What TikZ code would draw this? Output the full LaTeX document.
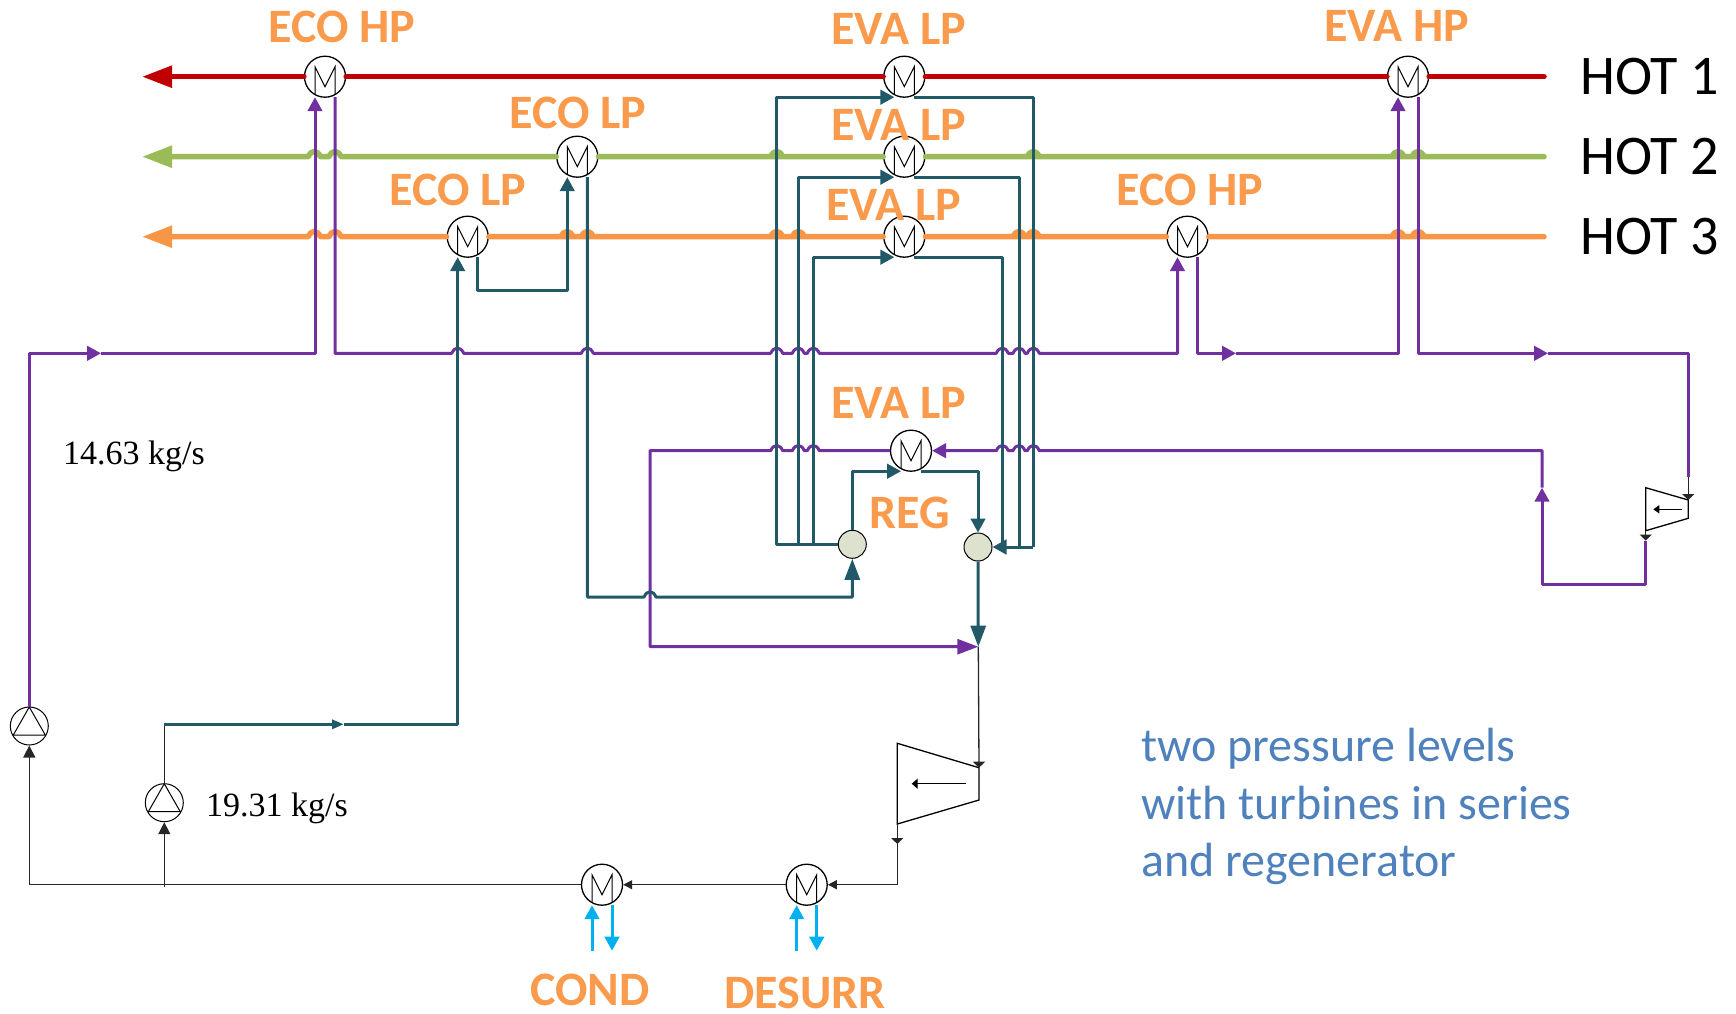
\documentclass[tikz,border=0pt]{standalone}
\usepackage{fontspec}
\setmainfont{Carlito}
\newfontfamily\timesfont{Liberation Serif}
\usetikzlibrary{arrows.meta,calc}
\definecolor{hotred}{HTML}{C00000}
\definecolor{hotgreen}{HTML}{9BBB59}
\definecolor{hotorange}{HTML}{F79646}
\definecolor{lblorange}{HTML}{F99A4C}
\definecolor{hppurple}{HTML}{7030A0}
\definecolor{lpteal}{HTML}{215968}
\definecolor{coolblue}{HTML}{00B0F0}
\definecolor{noteblue}{HTML}{4F81BD}
\definecolor{mixfill}{HTML}{DDE2CE}
\tikzset{
  hottip/.tip={Triangle[length=30pt,width=21pt]},
  pipetip/.tip={Triangle[length=14pt,width=14.5pt]},
  longtip/.tip={Triangle[length=21pt,width=15pt]},
  smalltip/.tip={Triangle[length=9pt,width=9pt]},
  pumptip/.tip={Triangle[length=12pt,width=12pt]},
  turbtip/.tip={Triangle[length=6pt,width=12pt]},
  hex/.style={circle,draw,fill=white,line width=1.3pt,minimum size=41pt,inner sep=0pt,
    path picture={\draw[line width=1pt] ([shift={(-10,19)}]path picture bounding box.center)
      -- ++(0,-29) -- ++(10,20) -- ++(10,-20) -- ++(0,29);}},
  pump/.style={circle,draw,line width=1pt,minimum size=38pt,inner sep=0pt,
    path picture={\draw[line width=1pt] ([shift={(0,-19)}]path picture bounding box.center)
      -- ++(16,28) -- ++(-32,0) -- cycle;}},
  mixer/.style={circle,draw,fill=mixfill,line width=1pt,minimum size=28pt,inner sep=0pt},
  hotline/.style={line width=5.5pt,line cap=round,line join=round},
  hppipe/.style={draw=hppurple,line width=3pt,line join=round},
  lppipe/.style={draw=lpteal,line width=3pt,line join=round},
  blackpipe/.style={draw=black!85,line width=1.3pt},
  coolpipe/.style={draw=coolblue,line width=3pt},
  lbl/.style={font=\fontsize{48}{48}\selectfont\bfseries,text=lblorange,inner sep=0pt},
  hotlbl/.style={font=\fontsize{56}{56}\selectfont,anchor=west,inner sep=0pt},
  flowlbl/.style={font=\timesfont\fontsize{34}{34}\selectfont,anchor=west,inner sep=0pt},
}
\newcommand{\hexnode}[3]{\node[hex] (#1) at (#2,#3) {};
  \coordinate (#1-in) at ($(#1)+(-10,20.5)$);
  \coordinate (#1-out) at ($(#1)+(10,20.5)$);}
\newcommand{\hops}[2]{\foreach \xx in {#1} {-- (\xx-6,#2) .. controls (\xx-3,#2-7) and (\xx+3,#2-7) .. (\xx+6,#2)}}
\begin{document}
\begin{tikzpicture}[x=1pt,y=-1pt]
\useasboundingbox (0,0) rectangle (1736,1013);
% exchangers on the hot streams
\hexnode{ecohpa}{325}{76.7}
\hexnode{evalpa}{904.3}{76.7}
\hexnode{evahpa}{1408}{76.7}
\hexnode{ecolpb}{577.3}{156.7}
\hexnode{evalpb}{904.3}{156.7}
\hexnode{ecolpc}{467.7}{236.7}
\hexnode{evalpc}{904.3}{236.7}
\hexnode{ecohpb}{1187.5}{236.7}
% regenerator and coolers
\hexnode{evalpd}{911}{450.7}
\hexnode{cond}{602}{884.7}
\hexnode{desurr}{806.7}{884.7}
\node[pump] (pumpa) at (29.3,726) {};
\node[pump] (pumpb) at (164.3,802.7) {};
\node[mixer] (mixl) at (852.3,544.3) {};
\node[mixer] (mixr) at (978,547) {};
% named free ends
\coordinate (hotaend) at (1544,76.7);
\coordinate (hotbend) at (1544,156.7);
\coordinate (hotcend) at (1544,236.7);
\coordinate (hotaout) at (142,76.7);
\coordinate (hotbout) at (142,156.7);
\coordinate (hotcout) at (142,236.7);
\coordinate (hpmida) at (101,353.3);
\coordinate (hpmidb) at (1236,353.3);
\coordinate (hpmidc) at (1548,353.3);
\coordinate (hpdrop) at (1688.3,477);
\coordinate (hpmidd) at (1542,487.7);
\coordinate (lpmida) at (344,724.3);
\coordinate (mixp) at (978.3,646.7);
% turbines
\coordinate (turba-in) at (1688.3,500);
\coordinate (turba-out) at (1645.7,530.7);
\coordinate (turba-end) at (1645.7,540.5);
\coordinate (turbb-in) at (979,767.7);
\coordinate (turbb-out) at (897.3,824);
\draw[line width=1.3pt,line join=miter] (1645.7,487.7) -- (turba-in) -- (1688.3,518.3) -- (turba-out) -- cycle;
\draw[line width=1.3pt,-{Triangle[length=6pt,width=8pt]}] (1681.7,509.3) -- (1653.3,509.3);
\draw[line width=1.3pt,line join=miter] (897.3,743.3) -- (turbb-in) -- (979,800) -- (turbb-out) -- cycle;
\draw[line width=1.3pt,-{Triangle[length=6pt,width=10pt]}] (965.7,783.7) -- (911.7,783.7);
% hot streams
\draw[hotline,hotred,{hottip}-] (hotaout) -- (ecohpa);
\draw[hotline,hotred] (ecohpa) -- (evalpa) -- (evahpa) -- (hotaend);
\draw[hotline,hotgreen,{hottip}-] (hotbout) \hops{314.3,335}{156.7} -- (ecolpb);
\draw[hotline,hotgreen] (ecolpb) \hops{776.7}{156.7} -- (evalpb);
\draw[hotline,hotgreen] (evalpb) \hops{1033.3,1398,1418}{156.7} -- (hotbend);
\draw[hotline,hotorange,{hottip}-] (hotcout) \hops{314.3,335}{236.7} -- (ecolpc);
\draw[hotline,hotorange] (ecolpc) \hops{567,587.3,776.7,798.3}{236.7} -- (evalpc);
\draw[hotline,hotorange] (evalpc) \hops{1019,1033.3}{236.7} -- (ecohpb);
\draw[hotline,hotorange] (ecohpb) \hops{1398,1418}{236.7} -- (hotcend);
% high pressure loop
\draw[hppipe,-{pipetip}] (pumpa.north) |- (hpmida);
\draw[hppipe,-{pipetip}] (hpmida) -| (ecohpa-in);
\draw[hppipe,-{pipetip}] (ecohpa-out) -- (ecohpa-out |- hpmida) \hops{457.7,587.3,776.7,798.3,813.3,1002.3,1019,1033.3}{353.3} -| (ecohpb-in);
\draw[hppipe,-{pipetip}] (ecohpb-out) |- (hpmidb);
\draw[hppipe,-{pipetip}] (hpmidb) -| (evahpa-in);
\draw[hppipe,-{pipetip}] (evahpa-out) |- (hpmidc);
\draw[hppipe] (hpmidc) -| (hpdrop);
\draw[blackpipe,-{turbtip}] (hpdrop) -- (turba-in);
\draw[blackpipe,-{turbtip}] (turba-out) -- (turba-end);
\draw[hppipe,-{pipetip}] (turba-end) -- ++(0,43.8) -| (hpmidd);
\draw[hppipe,{pipetip}-] (evalpd.east) \hops{1002.3,1019,1033.3}{450.7} -| (hpmidd);
\draw[hppipe,{longtip}-] (mixp) -- (650,646.7) -- (650,450.7) \hops{776.7,798.3,813.3}{450.7} -- (evalpd.west);
% low pressure loop
\draw[blackpipe] (pumpb.north) -- (pumpb.north |- lpmida);
\draw[lppipe,-{Triangle[length=12pt,width=9pt]}] (pumpb.north |- lpmida) -- (lpmida);
\draw[lppipe,-{pipetip}] (lpmida) -| (ecolpc-in);
\draw[lppipe,-{pipetip}] (ecolpc-out) |- (520,290.7) -| (ecolpb-in);
\draw[lppipe,-{longtip}] (ecolpb-out) -- (ecolpb-out |- 0,597) \hops{650}{597} -| (mixl.south);
\foreach \hx/\vx in {evalpa/776.7,evalpb/798.3,evalpc/813.3} {
  \draw[lppipe,-{pipetip}] (mixl.west) -- (\vx,544.3) |- (\hx-in);
}
\foreach \hx/\vx in {evalpa/1033.3,evalpb/1019,evalpc/1002.3} {
  \draw[lppipe] (\hx-out) -| (\vx,547);
}
\draw[lppipe,-{pipetip}] (1033.3,547) -- (mixr.east);
\draw[lppipe,-{pipetip}] (mixl.north) |- (evalpd-in);
\draw[lppipe,-{pipetip}] (evalpd-out) -| (mixr.north);
\draw[lppipe,-{longtip}] (mixr.south) -- (mixp);
% expansion and condensate
\draw[blackpipe,-{turbtip}] (mixp) -- (turbb-in);
\draw[blackpipe,-{turbtip}] (turbb-out) -- ++(0,20);
\draw[blackpipe,-{smalltip}] (897.3,844) |- (desurr.east);
\draw[blackpipe,-{smalltip}] (desurr.west) -- (cond.east);
\draw[blackpipe,-{pumptip}] (cond.west) -| (pumpa.south);
\draw[blackpipe,-{pumptip}] (164.3,887) -- (pumpb.south);
% cooling water
\draw[coolpipe,-{pipetip}] (592,950.7) -- (cond-in);
\draw[coolpipe,-{pipetip}] (cond-out) -- (612,950.7);
\draw[coolpipe,-{pipetip}] (796.7,950.7) -- (desurr-in);
\draw[coolpipe,-{pipetip}] (desurr-out) -- (816.7,950.7);
% labels
\node[lbl] (lecohpa) at (342,27) {ECO HP};
\node[lbl] (levalpa) at (899,29) {EVA LP};
\node[lbl] (levahpa) at (1397,26) {EVA HP};
\node[lbl] (lecolpb) at (578,113) {ECO LP};
\node[lbl] (levalpb) at (899,125) {EVA LP};
\node[lbl] (lecolpc) at (458,190) {ECO LP};
\node[lbl] (levalpc) at (894,205) {EVA LP};
\node[lbl] (lecohpb) at (1190,190) {ECO HP};
\node[lbl] (levalpd) at (899,403) {EVA LP};
\node[lbl] (lreg) at (910,513) {REG};
\node[lbl] (lcond) at (590,990) {COND};
\node[lbl] (ldesurr) at (805,993) {DESURR};
\node[hotlbl] (lhota) at (1580,76.7) {HOT 1};
\node[hotlbl] (lhotb) at (1580,156.7) {HOT 2};
\node[hotlbl] (lhotc) at (1580,236.7) {HOT 3};
\node[flowlbl] (lflowa) at (63,456) {14.63 kg/s};
\node[flowlbl] (lflowb) at (206,808) {19.31 kg/s};
\node[anchor=north west,inner sep=0pt,align=left,text=noteblue,font=\fontsize{48}{57.5}\selectfont] (lnote) at (1141,728) {two pressure levels\\with turbines in series\\and regenerator};
\end{tikzpicture}
\end{document}
